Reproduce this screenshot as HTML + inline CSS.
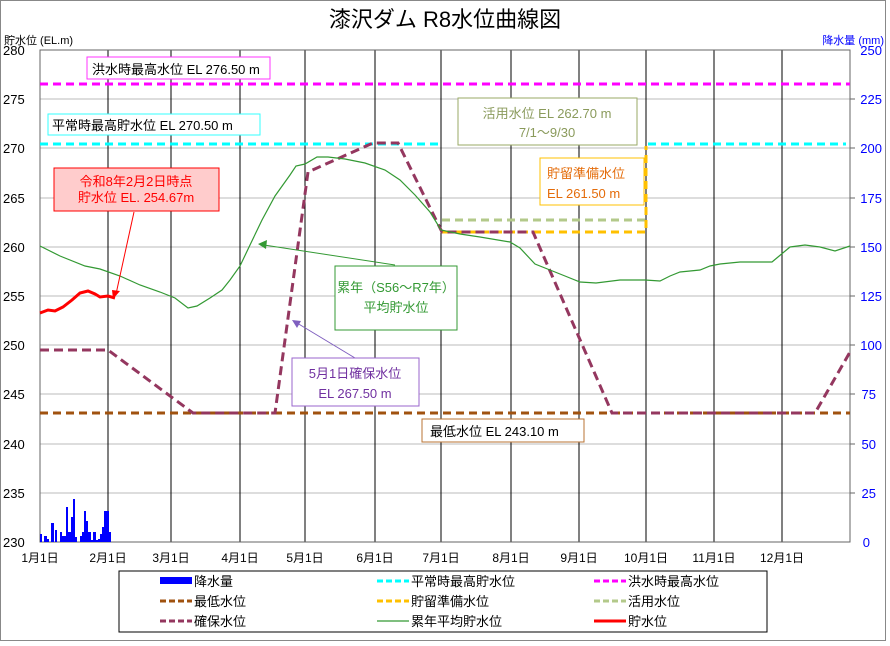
<!DOCTYPE html>
<html><head><meta charset="utf-8"><style>
html,body{margin:0;padding:0;background:#fff;}
svg{display:block;font-family:"Liberation Sans","Noto Sans CJK JP",sans-serif;}
</style></head><body>
<svg width="890" height="646" viewBox="0 0 890 646" xmlns="http://www.w3.org/2000/svg">
<rect x="0.5" y="0.5" width="885" height="640" fill="#fff" stroke="#888"/>
<text x="445" y="27" font-size="22" text-anchor="middle" fill="#000">漆沢ダム R8水位曲線図</text>
<text x="4" y="44" font-size="11" fill="#000">貯水位 (EL.m)</text>
<text x="884" y="44" font-size="11" fill="#00f" text-anchor="end">降水量 (mm)</text>
<!-- horizontal grid -->
<g stroke="#bbb" stroke-width="1">
<line x1="40" y1="99" x2="850" y2="99"/><line x1="40" y1="148" x2="850" y2="148"/>
<line x1="40" y1="198" x2="850" y2="198"/><line x1="40" y1="247" x2="850" y2="247"/>
<line x1="40" y1="296" x2="850" y2="296"/><line x1="40" y1="345" x2="850" y2="345"/>
<line x1="40" y1="394" x2="850" y2="394"/><line x1="40" y1="444" x2="850" y2="444"/>
<line x1="40" y1="493" x2="850" y2="493"/>
</g>
<!-- vertical month lines -->
<g stroke="#000" stroke-width="1">
<line x1="108" y1="50" x2="108" y2="542"/><line x1="171" y1="50" x2="171" y2="542"/>
<line x1="240" y1="50" x2="240" y2="542"/><line x1="305" y1="50" x2="305" y2="542"/>
<line x1="375" y1="50" x2="375" y2="542"/><line x1="441" y1="50" x2="441" y2="542"/>
<line x1="511" y1="50" x2="511" y2="542"/><line x1="579" y1="50" x2="579" y2="542"/>
<line x1="646" y1="50" x2="646" y2="542"/><line x1="714" y1="50" x2="714" y2="542"/>
<line x1="782" y1="50" x2="782" y2="542"/>
</g>
<rect x="40" y="50" width="810" height="492" fill="none" stroke="#666" stroke-width="1"/>
<!-- left ticks -->
<g font-size="13" fill="#000" text-anchor="start">
<text x="3" y="55">280</text><text x="3" y="104">275</text><text x="3" y="153">270</text>
<text x="3" y="203">265</text><text x="3" y="252">260</text><text x="3" y="301">255</text>
<text x="3" y="350">250</text><text x="3" y="399">245</text><text x="3" y="449">240</text>
<text x="3" y="498">235</text><text x="3" y="547">230</text>
</g>
<g font-size="13" fill="#00f" text-anchor="end">
<text x="882" y="55">250</text><text x="882" y="104">225</text><text x="882" y="153">200</text>
<text x="882" y="203">175</text><text x="882" y="252">150</text><text x="882" y="301">125</text>
<text x="882" y="350">100</text><text x="876" y="399">75</text><text x="876" y="449">50</text>
<text x="876" y="498">25</text><text x="870" y="547">0</text>
</g>
<g stroke="#666"><line x1="850" y1="99" x2="855" y2="99"/><line x1="850" y1="148" x2="855" y2="148"/><line x1="850" y1="198" x2="855" y2="198"/><line x1="850" y1="247" x2="855" y2="247"/><line x1="850" y1="296" x2="855" y2="296"/><line x1="850" y1="345" x2="855" y2="345"/><line x1="850" y1="394" x2="855" y2="394"/><line x1="850" y1="444" x2="855" y2="444"/><line x1="850" y1="493" x2="855" y2="493"/></g>
<!-- x labels -->
<g font-size="12" fill="#000" text-anchor="middle">
<text x="40" y="562">1月1日</text><text x="108" y="562">2月1日</text><text x="171" y="562">3月1日</text>
<text x="240" y="562">4月1日</text><text x="305" y="562">5月1日</text><text x="375" y="562">6月1日</text>
<text x="441" y="562">7月1日</text><text x="511" y="562">8月1日</text><text x="579" y="562">9月1日</text>
<text x="646" y="562">10月1日</text><text x="714" y="562">11月1日</text><text x="782" y="562">12月1日</text>
</g>
<!-- precip bars -->
<g fill="#00f">
<rect x="40" y="534" width="2" height="8"/><rect x="44" y="536" width="3" height="6"/><rect x="47" y="539" width="2" height="3"/>
<rect x="51" y="523" width="3" height="19"/><rect x="55" y="530" width="2" height="12"/>
<rect x="60" y="532" width="2" height="10"/><rect x="62" y="536" width="4" height="6"/><rect x="66" y="507" width="2" height="35"/>
<rect x="68" y="532" width="3" height="10"/><rect x="71" y="517" width="2" height="25"/><rect x="73" y="499" width="2" height="43"/>
<rect x="75" y="537" width="2" height="5"/><rect x="80" y="536" width="2" height="6"/><rect x="82" y="532" width="2" height="10"/>
<rect x="84" y="511" width="2" height="31"/><rect x="86" y="521" width="2" height="21"/><rect x="88" y="532" width="3" height="10"/>
<rect x="91" y="540" width="2" height="2"/><rect x="93" y="532" width="3" height="10"/><rect x="96" y="540" width="2" height="2"/>
<rect x="98" y="539" width="2" height="3"/><rect x="100" y="534" width="2" height="8"/><rect x="102" y="527" width="3" height="15"/>
<rect x="104" y="511" width="5" height="31"/><rect x="109" y="532" width="2" height="10"/>
</g>
<!-- reference lines -->
<line x1="40" y1="84" x2="850" y2="84" stroke="#ff00ff" stroke-width="3" stroke-dasharray="8,5"/>
<line x1="40" y1="144" x2="442" y2="144" stroke="#00ffff" stroke-width="3" stroke-dasharray="8,5"/>
<line x1="648" y1="144" x2="846" y2="144" stroke="#00ffff" stroke-width="3" stroke-dasharray="8,5"/>
<line x1="442" y1="220" x2="646" y2="220" stroke="#b3c98a" stroke-width="3" stroke-dasharray="8,5"/>
<polyline points="442,232 646,232 646,146" fill="none" stroke="#ffc000" stroke-width="3" stroke-dasharray="8,5"/>
<line x1="40" y1="413" x2="850" y2="413" stroke="#a0520f" stroke-width="3" stroke-dasharray="8,5"/>
<polyline points="40,350 108,350 193,413 275,413 308,172 373,143 398,143 442,232 533,232 612,413 815,413 850,352" fill="none" stroke="#94375f" stroke-width="3" stroke-dasharray="9,5"/>
<polyline points="40,246 60,256 85,266 100,269 120,276 140,285 160,292 175,298 188,308 197,306 210,298 222,290 230,280 240,266 250,245 262,220 275,196 290,175 296,166 305,164 317,157 328,157 345,159 365,163 385,170 400,180 415,195 430,212 441,230 460,234 480,237 510,242 520,248 535,264 550,270 565,276 580,282 596,283 620,280 645,280 660,281 670,276 680,272 700,270 710,266 720,264 740,262 760,262 772,262 778,257 790,247 805,245 820,247 835,251 850,246" fill="none" stroke="#339933" stroke-width="1.2"/>
<polyline points="40,313 48,310 55,311 63,307 72,300 80,293 88,291 95,294 100,297 108,296 115,298" fill="none" stroke="#ff0000" stroke-width="3"/>
<!-- annotations -->
<rect x="87" y="57" width="183" height="22" fill="#fff" stroke="#ff33ff"/>
<text x="92" y="74" font-size="13" fill="#000">洪水時最高水位  EL 276.50 m</text>
<rect x="48" y="114" width="212" height="21" fill="#fff" stroke="#33ffff"/>
<text x="52" y="130" font-size="13" fill="#000">平常時最高貯水位  EL 270.50 m</text>
<line x1="134" y1="212" x2="116" y2="294" stroke="#ff0000"/><polygon points="113,299 112,290 120,291" fill="#ff0000"/>
<rect x="54" y="168" width="165" height="43" fill="#ffcccc" stroke="#ff0000"/>
<text x="136" y="186" font-size="13" fill="#ff0000" text-anchor="middle">令和8年2月2日時点</text>
<text x="136" y="202" font-size="13" fill="#ff0000" text-anchor="middle">貯水位 EL. 254.67m</text>
<rect x="458" y="98" width="179" height="47" fill="#fff" stroke="#9aaa66"/>
<text x="547" y="118" font-size="13" fill="#8a9a5b" text-anchor="middle">活用水位 EL 262.70 m</text>
<text x="547" y="137" font-size="13" fill="#8a9a5b" text-anchor="middle">7/1～9/30</text>
<rect x="540" y="158" width="104" height="47" fill="#fff" stroke="#ffc000"/>
<text x="547" y="178" font-size="13" fill="#e46c0a">貯留準備水位</text>
<text x="547" y="198" font-size="13" fill="#e46c0a">EL 261.50 m</text>
<line x1="395" y1="265" x2="264" y2="245" stroke="#339933"/><polygon points="258,244 267,240 266,249" fill="#339933"/>
<rect x="335" y="266" width="122" height="64" fill="#fff" stroke="#339933"/>
<text x="396" y="292" font-size="13" fill="#339933" text-anchor="middle">累年（S56～R7年）</text>
<text x="396" y="312" font-size="13" fill="#339933" text-anchor="middle">平均貯水位</text>
<line x1="355" y1="358" x2="297" y2="323" stroke="#7f5fbf"/><polygon points="292,320 301,321 297,328" fill="#7f5fbf"/>
<rect x="292" y="358" width="127" height="48" fill="#fff" stroke="#9966cc"/>
<text x="355" y="378" font-size="13" fill="#7030a0" text-anchor="middle">5月1日確保水位</text>
<text x="355" y="398" font-size="13" fill="#7030a0" text-anchor="middle">EL 267.50 m</text>
<rect x="422" y="419" width="162" height="23" fill="#fff" stroke="#b87333"/>
<text x="430" y="436" font-size="13" fill="#000">最低水位  EL 243.10 m</text>
<!-- legend -->
<rect x="119" y="571" width="648" height="61" fill="#fff" stroke="#000"/>
<g font-size="13" fill="#000">
<rect x="160" y="577" width="32" height="7" fill="#00f"/><text x="194" y="586">降水量</text>
<line x1="377" y1="581" x2="409" y2="581" stroke="#00ffff" stroke-width="3" stroke-dasharray="6,3"/><text x="411" y="586">平常時最高貯水位</text>
<line x1="594" y1="581" x2="626" y2="581" stroke="#ff00ff" stroke-width="3" stroke-dasharray="6,3"/><text x="628" y="586">洪水時最高水位</text>
<line x1="160" y1="601" x2="192" y2="601" stroke="#a0520f" stroke-width="3" stroke-dasharray="6,3"/><text x="194" y="606">最低水位</text>
<line x1="377" y1="601" x2="409" y2="601" stroke="#ffc000" stroke-width="3" stroke-dasharray="6,3"/><text x="411" y="606">貯留準備水位</text>
<line x1="594" y1="601" x2="626" y2="601" stroke="#b3c98a" stroke-width="3" stroke-dasharray="6,3"/><text x="628" y="606">活用水位</text>
<line x1="160" y1="621" x2="192" y2="621" stroke="#94375f" stroke-width="3" stroke-dasharray="6,3"/><text x="194" y="626">確保水位</text>
<line x1="377" y1="621" x2="409" y2="621" stroke="#339933" stroke-width="1.2"/><text x="411" y="626">累年平均貯水位</text>
<line x1="594" y1="621" x2="626" y2="621" stroke="#ff0000" stroke-width="3"/><text x="628" y="626">貯水位</text>
</g>
</svg>
</body></html>
